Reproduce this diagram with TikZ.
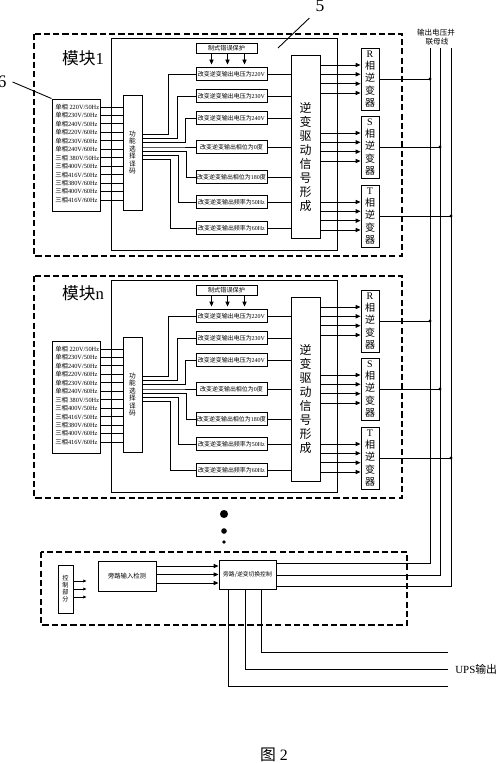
\documentclass[tikz,border=0pt]{standalone}
\usepackage{fontspec}
\setmainfont{Liberation Serif}
\newfontfamily\cjk{Noto Sans CJK SC}
\newcommand{\zh}[1]{{\cjk #1}}
\usetikzlibrary{arrows.meta,calc}
\tikzset{
  blk/.style={draw, line width=0.55pt, inner sep=0pt},
  dbox/.style={line width=0.9pt, dash pattern=on 3.5pt off 1.8pt},
  wire/.style={line width=0.5pt},
  arw/.style={wire, -{Triangle[length=2.8pt,width=2.4pt]}},
  arws/.style={wire, -{Triangle[length=1.8pt,width=1.6pt]}},
  txs/.style={font=\fontsize{3.6}{4.3}\selectfont},
  vtx/.style={align=center}
}
\begin{document}
\begin{tikzpicture}[x=0.02cm, y=-0.02cm]
\useasboundingbox (0,0) rectangle (500,763);

\coordinate (bt1) at (430,48);
\coordinate (bt2) at (440,48);
\coordinate (bt3) at (451,48);
\node[font=\cjk\fontsize{4.3}{4.3}\selectfont] (blab1) at (436,33) {输出电压并};
\node[font=\cjk\fontsize{4.3}{4.3}\selectfont] (blab2) at (437,42) {联母线};

\foreach \m/\dy/\ly in {1/0/58, n/242/51} {
\begin{scope}[shift={(0,\dy)}]
\draw[dbox] (34,34) rectangle (402,256);
\draw[blk] (111,38) rectangle (337,250);
\node[font=\fontsize{9.5}{9.5}\selectfont] (mod\m) at (83,\ly) {\zh{模块}\m};
\node[blk, minimum width=0.96cm, minimum height=2.24cm] (in\m) at (76,155) {};
\node[blk, vtx, minimum width=0.38cm, minimum height=2.3cm, font=\cjk\fontsize{3.8}{4.3}\selectfont] (dec\m) at (132.5,152.5) {功\\能\\选\\择\\译\\码};
\foreach \t [count=\k from 0] in {\zh{单相} 220V/50Hz, \zh{单相}230V/50Hz, \zh{单相}240V/50Hz, \zh{单相}220V/60Hz, \zh{单相}230V/60Hz, \zh{单相}240V/60Hz, \zh{三相} 380V/50Hz, \zh{三相}400V/50Hz, \zh{三相}416V/50Hz, \zh{三相}380V/60Hz, \zh{三相}400V/60Hz, \zh{三相}416V/60Hz} {
  \node[txs, anchor=west, inner sep=0pt] (r\m-\k) at (55,107+8.45*\k) {\t};
  \draw[wire] (in\m.east |- r\m-\k) -- (dec\m.west |- r\m-\k);
}
\node[blk, minimum width=1.22cm, minimum height=0.2cm, font=\cjk\fontsize{3.5}{3.5}\selectfont] (prot\m) at (226.5,48) {制式错误保护};
\foreach \d in {-15,1,18} \draw[arw] ($(prot\m.south)+(\d,0)$) -- ++(0,11);
\node[blk, minimum width=0.58cm, minimum height=3.68cm] (drv\m) at (305.5,147) {};
\node[vtx, font=\cjk\fontsize{6.8}{7.9}\selectfont, inner sep=0pt] (drvt\m) at ($(drv\m.center)+(0,10)$) {逆\\变\\驱\\动\\信\\号\\形\\成};
\foreach \t/\fy/\oy/\rx [count=\i] in {\zh{改变逆变输出电压为}220V/74/134/168, \zh{改变逆变输出电压为}230V/96/138/177, \zh{改变逆变输出电压为}240V/118/142/185, \zh{改变逆变输出相位为}0\zh{度}/147/147/175, \zh{改变逆变输出相位为}180\zh{度}/177/151/186, \zh{改变逆变输出频率为}50Hz/202/155/178, \zh{改变逆变输出频率为}60Hz/228/159/170} {
  \node[blk, minimum width=1.42cm, minimum height=0.25cm, font=\fontsize{3.4}{3.4}\selectfont] (f\m-\i) at (231.5,\fy) {\t};
  \draw[wire] (dec\m.east |- 0,\oy) -| (\rx,\fy) -- (f\m-\i.west);
  \draw[wire] (f\m-\i.east) -- (drv\m.west |- f\m-\i.east);
}
\foreach \ph/\yc [count=\j] in {R/79, S/147, T/216} {
  \node[blk, vtx, minimum width=0.36cm, minimum height=1.24cm, font=\cjk\fontsize{5.7}{7}\selectfont] (inv\m-\j) at (370,\yc) {{\rmfamily\ph}\\相\\逆\\变\\器};
  \foreach \d in {-14,-4.7,4.7,14} \draw[arw] (drv\m.east |- 0,\yc+\d) -- (inv\m-\j.west |- 0,\yc+\d);
  \draw[wire] (inv\m-\j.east) -- (inv\m-\j.east -| bt\j);
  \fill (inv\m-\j.east -| bt\j) circle (0.9pt);
}
\end{scope}
}

\node[font=\fontsize{10}{10}\selectfont] (n6) at (2,82) {6};
\draw[wire] (n6.east) -- (in1.north west);
\node[font=\fontsize{10}{10}\selectfont] (n5) at (320,6) {5};
\coordinate (p5) at (278,48);
\draw[wire] (n5.south west) -- (p5);

\fill (224,514) circle (2.3pt);
\fill (224,531) circle (1.6pt);
\fill (224,542) circle (1.1pt);

\draw[dbox] (41,552) rectangle (407,625);
\node[blk, vtx, minimum width=0.3cm, minimum height=0.96cm, font=\cjk\fontsize{3.5}{4}\selectfont] (ctl) at (65.5,589) {控\\制\\部\\分};
\foreach \d in {-8,0,8} \draw[arws] (ctl.east |- 0,589+\d) -- ++(13,0);
\node[blk, minimum width=1.16cm, minimum height=0.6cm, font=\cjk\fontsize{3.6}{3.6}\selectfont] (det) at (127,576) {旁路输入检测};
\node[blk, minimum width=1.14cm, minimum height=0.58cm, font=\cjk\fontsize{3.3}{3.3}\selectfont] (sw) at (247.5,574.5) {旁路/逆变切换控制};
\foreach \d in {-8.5,0,8.5} \draw[arw] (det.east |- 0,574.5+\d) -- (sw.west |- 0,574.5+\d);

\draw[wire] (bt1) |- (sw.east |- 0,563);
\draw[wire] (bt2) |- (sw.east |- 0,575);
\draw[wire] (bt3) |- (sw.east |- 0,586);

\node[anchor=west, inner sep=0pt, font=\fontsize{6.2}{6.2}\selectfont] (upsl) at (455,669) {UPS\zh{输出}};
\coordinate (ups1) at (448,652);
\coordinate (ups2) at (448,669);
\coordinate (ups3) at (448,686);
\draw[wire] (sw.south -| 261,0) |- (ups1);
\draw[wire] (sw.south -| 245,0) |- (ups2);
\draw[wire] (sw.south -| 228,0) |- (ups3);

\node[font=\fontsize{9}{9}\selectfont] (cap) at (274,755) {\zh{图} 2};
\end{tikzpicture}
\end{document}
